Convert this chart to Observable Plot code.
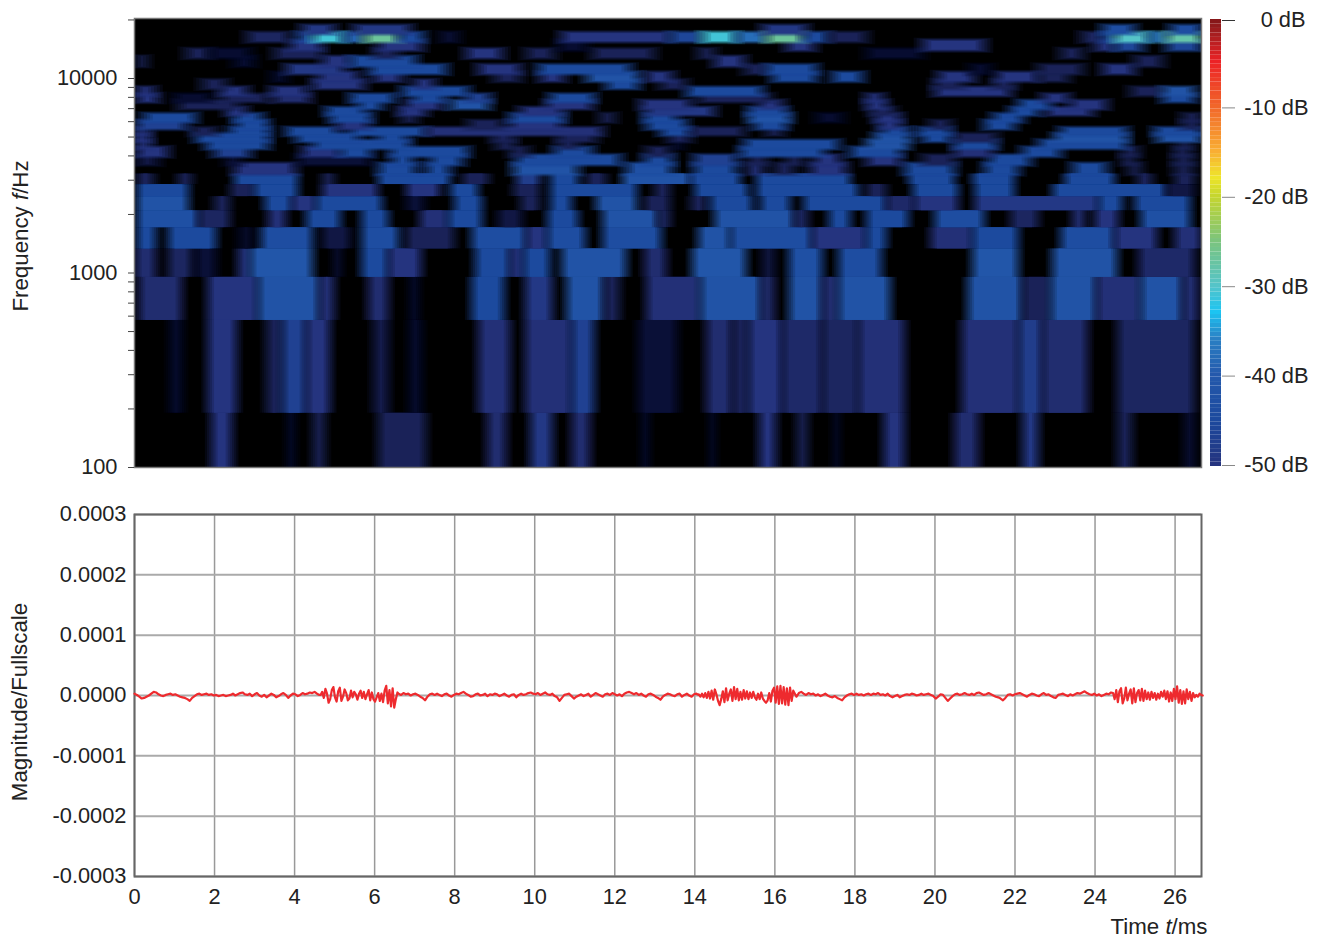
<!DOCTYPE html>
<html><head><meta charset="utf-8">
<script src="https://cdn.jsdelivr.net/npm/d3@7"></script>
<script src="https://cdn.jsdelivr.net/npm/@observablehq/plot@0.6"></script>
<style>
html,body{margin:0;padding:0;background:#fff}
#page{position:relative;width:1324px;height:938px;font-family:"Liberation Sans",Arial,sans-serif;color:#222}
#page svg.chart{position:absolute}
.lab{position:absolute;font-size:22.3px;white-space:nowrap;line-height:0.8}
</style></head><body>
<div id="page"></div>
<script>
// ---- spectrogram: each row lists [start ms, end ms, dB]; everything else is below display (black)
const r100=[[1.93,2.45,-50],[3.85,4.0,-61],[4.47,4.77,-55],[6.1,7.3,-55],[8.82,9.3,-52],[9.9,10.46,-49],[10.93,11.4,-52],[12.7,12.85,-61],[14.4,14.5,-61],[15.62,16.04,-50],[16.57,16.83,-55],[17.5,17.6,-61],[18.73,19.25,-50],[20.5,21.1,-52],[22.2,22.6,-49],[24.57,24.94,-55],[26.25,26.5,-60]];
const r190=[[0.9,1.2,-61],[1.84,2.57,-50],[3.3,3.7,-55],[3.7,4.3,-47],[4.3,4.9,-50],[5.98,6.36,-57],[6.88,7.18,-61],[8.6,9.4,-51],[9.77,10.93,-51],[10.93,11.5,-47],[12.6,13.57,-60],[14.3,14.95,-52],[14.95,15.35,-55],[15.35,16.2,-50],[16.2,17.2,-53],[17.2,18.1,-54],[18.1,19.25,-51],[20.68,22.1,-51],[22.1,22.7,-48],[22.7,23.83,-52],[24.57,26.5,-54]];
const r570=[[0.12,1.2,-52],[1.84,3.1,-50],[3.1,4.64,-42],[4.64,5,-51],[5.85,6.36,-52],[6.9,7.1,-61],[8.43,9.25,-45],[9.77,10.46,-49],[10.8,11.75,-42],[11.75,12.14,-55],[12.8,14.15,-51],[14.15,15.68,-42],[15.68,16,-52],[16.36,17.2,-42],[17.2,17.6,-52],[17.6,18.9,-42],[20.83,22.2,-42],[22.2,22.9,-55],[22.9,24.05,-42],[24.05,25.15,-51],[25.15,26.2,-42],[26.2,26.6,-52]];
const r950=[[0.03,0.55,-52],[0.85,1.45,-54],[1.54,2.05,-60],[2.6,2.9,-50],[2.9,4.47,-41],[5,5.16,-60],[5.68,6.36,-45],[6.36,7.18,-50],[8.52,9.4,-45],[9.4,9.73,-50],[9.73,10.4,-45],[10.68,12.3,-42],[12.75,13.3,-52],[13.94,15.3,-41],[15.7,16,-58],[16.36,17.2,-43],[17.6,18.68,-44],[20.94,22.1,-41],[22.94,24.57,-42],[25.1,26.5,-53]];
const r1330=[[0.07,0.55,-45],[0.85,2.05,-45],[2.6,3.0,-62],[3.17,4.47,-44],[4.7,5.4,-58],[5.68,6.62,-44],[6.8,8,-55],[8.43,9.8,-44],[9.8,10.33,-50],[10.33,11.28,-44],[11.7,13.18,-44],[14.1,14.9,-42],[14.9,16.94,-44],[16.94,18.3,-50],[18.3,18.8,-45],[19.9,20.95,-51],[20.95,22.1,-45],[23.15,24.5,-44],[24.5,25.57,-50],[26,26.66,-51]];
const r1710=[[0.07,1.62,-43],[1.62,2.4,-54],[3.35,3.8,-51],[4.3,5.16,-45],[5.68,6.36,-45],[7.14,7.85,-51],[7.85,8.7,-45],[9.1,9.7,-58],[10.33,11.1,-45],[11.7,13.1,-42],[13.1,13.4,-54],[14.5,16.5,-42],[16.5,16.85,-54],[17.36,17.9,-45],[18.3,19.35,-45],[20,21.25,-44],[21.9,22.6,-54],[23.45,23.75,-51],[24,24.6,-50],[25.15,26.4,-43]];
const r2090=[[0.07,1.37,-42],[2,2.4,-55],[3.26,3.95,-45],[3.95,4.55,-50],[4.55,6.2,-45],[6.8,7.25,-60],[8,8.7,-45],[9.65,10.15,-55],[10.4,10.94,-45],[11.54,12.57,-42],[12.75,13.4,-55],[13.9,14.3,-55],[14.4,15.45,-45],[15.65,16.4,-45],[16.73,18.8,-45],[18.8,19.5,-53],[19.5,20.6,-50],[21,24.1,-49],[24.1,24.7,-45],[25,26.4,-45]];
const r2470=[[0.07,1.37,-45],[2.4,3,-55],[3,4.1,-45],[4.7,6.1,-50],[6.8,7.65,-50],[7.9,8.6,-45],[9.47,10.15,-55],[10.4,12.57,-45],[13,13.4,-55],[14,15.35,-45],[15.55,18.1,-45],[18.3,18.8,-55],[19.45,20.6,-45],[21,22,-45],[22.95,25.8,-45],[25.8,26.5,-58]];
const r2850=[[0.07,0.5,-55],[1.1,1.45,-55],[2.5,4.1,-45],[4.7,5,-55],[6.1,7.9,-45],[8.2,8.87,-55],[9.55,10.15,-48],[10.4,11.1,-45],[11.3,11.8,-55],[12.2,13.9,-42],[13.9,15.15,-45],[15.55,17.9,-45],[19.35,20.5,-45],[20.95,22,-45],[23.25,24.5,-45],[25.05,25.45,-55],[26,26.5,-55]];
const r3230=[[2.5,4.04,-50],[6.1,7.05,-45],[7.3,7.9,-45],[9.47,11.1,-42],[12.3,13.45,-43],[14,15.05,-45],[15.35,15.7,-50],[16,16.5,-55],[16.9,17.8,-50],[19.25,20.5,-45],[21.25,22.1,-45],[23.45,24.3,-45],[24.85,25.15,-55],[26,26.45,-55]];
const r3610=[[0.07,0.6,-58],[2.3,2.65,-60],[4.1,5.9,-60],[6.45,6.97,-45],[7.4,8.2,-45],[9.55,12.15,-45],[12.75,13.45,-45],[14,15.05,-47],[15.35,15.8,-55],[16.3,16.7,-55],[17,17.65,-50],[18.3,19.15,-50],[19.7,20.5,-55],[21.36,22.4,-45],[24.7,25,-55],[26,26.45,-55]];
const r3990=[[0.07,0.85,-50],[2,2.9,-47],[4.2,5.15,-50],[5.15,5.93,-45],[6.4,8.35,-45],[9.4,9.85,-55],[10.5,11.45,-45],[12.8,13.4,-55],[15.15,17.25,-45],[17.9,19.15,-45],[20.5,21.45,-51],[22.2,23.15,-45],[24.7,25.1,-55],[26,26.4,-55]];
const r4370=[[0.07,0.4,-50],[1.8,3.35,-45],[4.47,6.9,-45],[9.05,9.5,-55],[10.6,11.1,-55],[13.5,13.7,-61],[15.25,17.6,-45],[18.3,19.35,-42],[20.5,21.55,-45],[22.6,24.8,-45],[26.1,26.4,-55]];
const r4750=[[0.0,0.4,-50],[1.54,3.35,-45],[4.04,5.6,-45],[6.1,6.8,-45],[8.95,9.5,-55],[10.6,11.55,-55],[13.35,13.9,-55],[18.5,19.35,-42],[19.7,20.4,-45],[20.5,21.55,-55],[23,24.8,-42],[25.55,26.66,-42]];
const r5130=[[0.07,0.35,-50],[1.45,2.05,-55],[2.4,3.35,-45],[3.8,5.07,-45],[5.4,7.3,-45],[7.3,11.7,-51],[13.15,13.9,-45],[13.9,15.25,-55],[15.8,16.2,-55],[18.7,19.35,-45],[19.6,20.4,-45],[23.15,24.8,-45],[25.5,26.66,-45]];
const r5510=[[0.07,1.3,-47],[2.57,3.35,-45],[5.07,5.85,-50],[8.35,9.2,-55],[9.4,10.67,-50],[12.8,13.8,-45],[15.5,16.3,-45],[18.6,19.15,-50],[19.9,20.4,-55],[21.25,22,-45],[26.2,26.66,-55]];
const r6000=[[0.25,1.54,-45],[2.5,3.2,-45],[4.9,5.93,-45],[6.7,7.05,-55],[9.4,10.75,-45],[11.65,12,-55],[12.75,13.55,-45],[15.35,16.4,-42],[17.05,17.7,-61],[18.5,19.15,-50],[21.47,22.2,-45],[26.2,26.66,-55]];
const r6500=[[2.3,2.8,-50],[4.8,5.76,-45],[6.6,7.3,-50],[9.65,10.7,-50],[12.8,14.5,-49],[15.35,16.3,-45],[18.4,19,-55],[21.9,22.6,-45],[22.8,23.95,-50]];
const r7000=[[1.1,2.6,-55],[5.6,6.2,-45],[6.8,7.7,-50],[7.9,8.87,-42],[10.3,11.45,-50],[12.65,13.9,-50],[15.6,16.2,-50],[18.3,18.8,-50],[22.1,22.9,-45],[23.4,24.3,-50]];
const r7600=[[0.07,0.6,-50],[1.0,1.9,-61],[2.2,3.35,-55],[3.5,4.4,-52],[5.4,6.5,-45],[7,7.75,-45],[8.3,8.9,-47],[10.4,11.5,-45],[14.1,15.9,-55],[18.3,18.7,-50],[22.7,23.35,-50],[25.7,26.5,-45]];
const r8200=[[0.07,0.5,-50],[2.14,2.83,-50],[3.43,4.3,-50],[6.7,8.35,-45],[13.8,15.7,-45],[20,21.9,-50],[24.9,25.7,-55],[25.7,26.5,-42]];
const r8900=[[1.7,2.3,-55],[4.47,5.76,-50],[7,7.5,-50],[11.8,12.6,-45],[13.15,13.8,-55],[20,20.7,-55],[21.47,22,-55]];
const r9700=[[3.45,3.8,-61],[4.6,5.6,-50],[6,6.7,-50],[9,9.65,-55],[10.15,10.75,-50],[11.3,12.6,-42],[12.8,13.45,-50],[15.95,17.05,-45],[17.45,18.2,-45],[20.1,21,-50],[21.55,22.6,-50],[22.6,23.35,-55]];
const r10600=[[3.8,5.25,-49],[5.9,7.8,-45],[8.6,9.65,-50],[10.1,12.4,-45],[15.25,15.8,-55],[15.8,17.05,-45],[20.9,21.4,-61],[22.6,23.7,-55],[24.2,25,-50]];
const r11600=[[0.1,0.3,-55],[2.5,3,-61],[4.7,5.4,-50],[5.4,7.05,-45],[14.5,15.25,-50],[25,25.7,-55]];
const r12800=[[1.3,1.9,-55],[1.9,2.9,-61],[3.5,4.7,-55],[6,6.6,-55],[8.3,9.2,-50],[9.8,10.5,-55],[11.45,13,-55],[14.1,14.5,-55],[18.3,19.7,-61],[23.15,23.7,-55]];
const r14000=[[3.9,4.7,-50],[6.1,7.2,-50],[10.6,11.3,-61],[16.3,17,-50],[19.7,21.25,-50],[24,24.5,-50],[24.5,25.2,-46],[25.8,26.66,-46]];
const r15500=[[2.83,3.87,-54],[4.1,4.47,-44],[4.47,5.25,-31],[5.25,5.76,-39],[5.76,6.62,-27],[6.62,7.23,-45],[7.66,8.1,-60],[10.68,13.4,-50],[13.4,14.2,-46],[14.2,15.05,-31],[15.05,15.8,-38],[15.8,16.73,-27],[16.73,17.36,-45],[17.36,18.3,-55],[23.68,24.2,-54],[24.2,24.5,-45],[24.5,25.36,-30],[25.36,25.8,-37],[25.8,26.66,-28]];
const r17000=[[4.2,5,-49],[5.5,6.9,-49],[15.7,16.8,-49],[24.2,25,-44],[25.9,26.66,-44]];
const bandsLow=[[100,190,r100],[190,570,r190],[570,950,r570],[950,1330,r950],[1330,1710,r1330],[1710,2090,r1710],[2090,2470,r2090],[2470,2850,r2470],[2850,3230,r2850]];
const bandsHigh=[[3230,3610,r3230],[3610,3990,r3610],[3990,4370,r3990],[4370,4750,r4370],[4750,5130,r4750],[5130,5510,r5130],[5510,6000,r5510],[6000,6500,r6000],[6500,7000,r6500],[7000,7600,r7000],[7600,8200,r7600],[8200,8900,r8200],[8900,9700,r8900],[9700,10600,r9700],[10600,11600,r10600],[11600,12800,r11600],[12800,14000,r12800],[14000,15500,r14000],[15500,17000,r15500],[17000,18500,r17000]];

// ---- colour key
const dbStops=[-66,-61,-55,-50,-45,-40,-36,-33,-30,-25,-20,-18,-15,-10,-5,-2,0];
const dbColors=["#000000","#070c30","#1a2258","#25347f","#1c4a9e","#2459ac","#2a80c4","#1cc4f2","#55c4c8","#7cc47c","#c6d62e","#eee52a","#f9ae33","#f1662a","#ec2226","#a81e20","#7c1517"];
const dbTicks=[-10,-20,-30,-40,-50];
const dbTop=[0];
const freqTicks=[100,200,300,400,500,600,700,800,900,1000,2000,3000,4000,5000,6000,7000,8000,9000,10000,20000];
const freqLabels=[100,1000,10000];

// ---- waveform, in millionths of full scale: [start ms, step ms, values]
const wave0=[3,1,-2,-5,-4,-2,0,3,6,5,2,0,-1,1,2,3,1,2,0,-2,-3,-4,-6,-9,-4,-1,2,3,1,2,3,1,2,0,1,-1,0,1,-1,0,1,3,0,2,4,5,2,1,3,-1,2,4,0,-2,1,-3,0,3,1,-3,-1,2,4,1,-4,0,3,2,-1,1,4,2,3,5,4,6,3,1];
const burst1=[1,6,-4,11,3,-12,-6,9,14,-3,-10,7,13,-9,-2,10,4,-8,-5,8,-3,6,2,-7,3,8,-4,6,-6,2,9,-8,5,-6,-10,-3,4,-9,3,-11,8,16,-13,9,-18,12,-20,-6,5];
const wave1=[3,1,4,2,3,0,2,3,1,-2,-4,-8,-2,2,3,1,3,1,-1,2,3,0,-2,1,3,2,4,6,3,1,-2,-1,2,3,0,1,3,-1,2,1,3,2,-1,1,3,0,-2,1,2,-3,1,3,1,2,4,5,3,2,4,1,3,5,2,1,3,-1,-3,-9,-4,1,2,3,-1,-5,-2,0,2,-1,1,3,-2,1,4,2,0,-2,2,3,1,4,2,0,2,-1,3,5,6,4,2,4,1,3,0,-2,2,3,1,-2,-4,-7,-2,1,3,2,0,-1,2,3,-2,1,3,0,-2,2,3,1];
const burst2=[2,-2,3,-3,4,-4,6,-5,8,-7,10,2,-9,-16,-6,7,-11,12,-8,3,10,-9,14,-6,11,-8,6,-7,9,-5,7,-6,5,-4,6,-3,-7,3,-6,5,-5,-9,-12,-8,4,-10,8,13,-12,15,-14,16,-13,14,-15,12,-16,13,-9,8,3,-2];
const wave2=[4,6,3,1,4,2,3,0,2,-1,1,3,0,-2,-3,-1,-4,-6,-8,-3,0,2,3,1,3,1,2,0,2,3,1,3,2,4,1,2,0,3,-1,-3,-1,1,-3,-1,1,2,1,3,2,0,1,3,1,2,3,1,-1,-5,-2,2,1,-4,-9,-5,-1,2,3,1,2,4,2,1,3,1,4,5,3,1,2,4,2,0,-2,-3,-5,-8,-4,1,2,0,2,3,4,2,0,-2,1,3,2,0,-1,2,4,1,2,-1,-3,-4,1,2,3,1,-1,2,0,2,4,3,5,7,4,2,1,3,0,2,-1,1,3,2,5];
const burst3=[4,-6,9,-11,7,12,-13,-5,13,-8,3,10,-13,12,-11,4,9,-8,11,-9,8,-6,5,-7,6,-4,4,-7,3,-5,6,-2,8,-6,7,-10,5,-9,11,-6,15,-12,9,-14,7,-13,10,-6,6,-9,4,-3,1,-2,3,1,0];
const waveSegments=[[0,0.06,wave0],[4.65,0.04,burst1],[6.6,0.06,wave1],[14.1,0.04,burst2],[16.6,0.06,wave2],[24.45,0.04,burst3]];
const ampTicks=[-0.0003,-0.0002,-0.0001,0,0.0001,0.0002,0.0003];
const timeTicks=[0,2,4,6,8,10,12,14,16,18,20,22,24,26];

// Each cell fades in over a short ramp: nested rects whose opacities build up to the full colour.
const LAYERS=7;
const softCells=(bands,w,f)=>bands.flatMap(([lo,hi,spans])=>spans.flatMap(([t0,t1,db])=>
  d3.range(LAYERS).flatMap(n=>{
    const u=n/(LAYERS-1), x1=t0-w+2*w*u, x2=t1+w-2*w*u;
    if(x2<=x1) return [];
    const g=Math.pow(f,1-u);
    return [{x1,x2,lo:lo/g,hi:hi*g,db,a:1/(LAYERS-n)}];
  })));
const wavePts=waveSegments.flatMap(([start,step,vals])=>vals.map((v,i)=>({t:start+i*step,v:v*1e-6})));

const page=document.getElementById("page");
const font={fontFamily:"'Liberation Sans',Arial,sans-serif",fontSize:"21.8px",background:"transparent",color:"#222"};
const xDomain=[0,26.66];
const colorOpt={type:"linear",domain:dbStops,range:dbColors,clamp:true};
const cellMark=cells=>Plot.rect(cells,{x1:"x1",x2:"x2",y1:"lo",y2:"hi",fill:"db",fillOpacity:"a",clip:"frame"});

const spec=Plot.plot({width:1324,height:480,marginLeft:134,marginRight:123,marginTop:18,marginBottom:13,style:font,
  x:{domain:xDomain,axis:null},
  y:{type:"log",domain:[100,20350],axis:null},
  color:colorOpt,
  marks:[
    Plot.frame({fill:"#000",stroke:null}),
    cellMark(softCells(bandsLow,0.16,1)),
    cellMark(softCells(bandsHigh,0.22,1.04)),
    Plot.frame({stroke:"#777",strokeWidth:1.5}),
    Plot.axisY({ticks:freqTicks,tickSize:6,tickPadding:11,label:null,stroke:"#444",tickFormat:d=>freqLabels.includes(d)?String(d):""})
  ]});
spec.classList.add("chart");spec.style.left="0px";spec.style.top="0px";page.append(spec);

const barBands=d3.range(-50,0,0.5).map(v=>({v}));
const bar=Plot.plot({width:124,height:480,marginLeft:10,marginRight:103,marginTop:19,marginBottom:14,style:font,
  x:{domain:[0,1],axis:null},
  y:{domain:[-50,0],axis:null},
  color:colorOpt,
  marks:[
    Plot.rect(barBands,{x1:()=>0,x2:()=>1,y1:"v",y2:d=>d.v+0.5,fill:"v"}),
    Plot.axisY({anchor:"right",ticks:dbTicks,tickSize:13,tickPadding:74,textAnchor:"end",dy:-1,label:null,stroke:"#888",tickFormat:d=>`${d} dB`}),
    Plot.axisY({anchor:"right",ticks:dbTop,tickSize:13,tickPadding:71,textAnchor:"end",dy:1,label:null,stroke:"#333",tickFormat:d=>`${d} dB`})
  ]});
bar.classList.add("chart");bar.style.left="1200px";bar.style.top="0px";page.append(bar);

const wave=Plot.plot({width:1324,height:438,marginLeft:134,marginRight:123,marginTop:14,marginBottom:62,style:font,
  x:{domain:xDomain,axis:null},
  y:{domain:[-0.0003,0.0003],axis:null},
  marks:[
    Plot.gridX(timeTicks,{stroke:"#999",strokeOpacity:1,strokeWidth:1.5}),
    Plot.gridY(ampTicks,{stroke:"#aaa",strokeOpacity:1,strokeWidth:2}),
    Plot.frame({stroke:"#666",strokeWidth:2}),
    Plot.line(wavePts,{x:"t",y:"v",stroke:"#ee2a2e",strokeWidth:2.2}),
    Plot.axisY({ticks:ampTicks,tickSize:0,tickPadding:8,label:null,tickFormat:d=>d.toFixed(4)}),
    Plot.axisX({ticks:timeTicks,tickSize:0,tickPadding:12,label:null,tickFormat:d=>String(d)})
  ]});
wave.classList.add("chart");wave.style.left="0px";wave.style.top="500px";page.append(wave);

function label(html,left,top,rot){
  const el=document.createElement("div");el.className="lab";el.innerHTML=html;
  el.style.left=left+"px";el.style.top=top+"px";
  el.style.transform=rot?"translate(-50%,-50%) rotate(-90deg)":"translate(-50%,-50%)";
  page.append(el);
}
label("Frequency <i>f</i>/Hz",21,236,true);
label("Magnitude/Fullscale",20,702,true);
label("Time <i>t</i>/ms",1159,927,false);
</script></body></html>
